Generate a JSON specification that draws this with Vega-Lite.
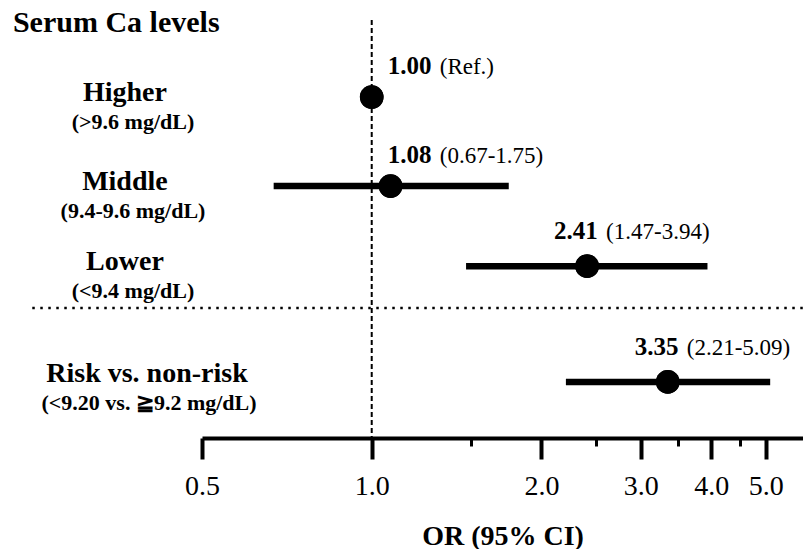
{
  "$schema": "https://vega.github.io/schema/vega-lite/v6.json",
  "width": 601,
  "height": 438,
  "autosize": {"type": "none"},
  "padding": {"left": 202, "top": 0, "right": 0, "bottom": 111},
  "background": "white",
  "config": {
    "view": {"stroke": null},
    "axisY": {"disable": true},
    "text": {"font": "Liberation Serif", "color": "black"}
  },
  "data": {
    "values": [
      {"group": "Higher", "range": "(>9.6 mg/dL)", "row": 1, "est": 1.00, "lo": null, "hi": null, "ci": "(Ref.)"},
      {"group": "Middle", "range": "(9.4-9.6 mg/dL)", "row": 2, "est": 1.08, "lo": 0.67, "hi": 1.75, "ci": "(0.67-1.75)"},
      {"group": "Lower", "range": "(<9.4 mg/dL)", "row": 2.9, "est": 2.41, "lo": 1.47, "hi": 3.94, "ci": "(1.47-3.94)"},
      {"group": "Risk vs. non-risk", "range": "(<9.20 vs. ≧9.2  mg/dL)", "row": 4.2, "est": 3.35, "lo": 2.21, "hi": 5.09, "ci": "(2.21-5.09)"}
    ]
  },
  "layer": [
    {
      "mark": {"type": "point", "filled": true, "color": "black", "opacity": 1, "size": 560},
      "encoding": {
        "x": {
          "field": "est", "type": "quantitative",
          "scale": {"type": "log", "domain": [0.5, 5.82], "nice": false},
          "axis": {
            "title": "OR (95% CI)",
            "values": [0.5, 1, 1.5, 2, 2.5, 3, 3.5, 4, 4.5, 5],
            "labelExpr": "indexof([1.5,2.5,3.5,4.5], datum.value) >= 0 ? '' : format(datum.value, '.1f')",
            "grid": false,
            "domainColor": "black",
            "domainWidth": 4,
            "tickColor": "black",
            "tickSize": {"condition": {"test": "indexof([1.5,2.5,3.5,4.5], datum.value) >= 0", "value": 8}, "value": 21},
            "tickWidth": {"condition": {"test": "indexof([1.5,2.5,3.5,4.5], datum.value) >= 0", "value": 3}, "value": 4},
            "labelFont": "Liberation Serif",
            "labelFontSize": 28,
            "labelColor": "black",
            "labelPadding": 13,
            "labelFlush": false,
            "labelOverlap": false,
            "titleFont": "Liberation Serif",
            "titleFontSize": 28,
            "titleFontWeight": "bold",
            "titleColor": "black",
            "titlePadding": 22
          }
        },
        "y": {"field": "row", "type": "quantitative", "scale": {"domain": [-0.09, 4.83], "reverse": true, "nice": false, "zero": false}, "axis": null}
      }
    },
    {
      "data": {"values": [{}]},
      "mark": {"type": "rule", "color": "black", "strokeWidth": 2, "strokeDash": [5, 3]},
      "encoding": {
        "x": {"datum": 1, "type": "quantitative"},
        "y": {"datum": 0.135, "type": "quantitative"},
        "y2": {"datum": 4.83}
      }
    },
    {
      "data": {"values": [{}]},
      "mark": {"type": "rule", "color": "black", "strokeWidth": 2.5, "strokeDash": [2.5, 5.5]},
      "encoding": {
        "x": {"datum": 0.25, "type": "quantitative"},
        "x2": {"datum": 5.82},
        "y": {"datum": 3.37, "type": "quantitative"}
      }
    },
    {
      "transform": [{"filter": "datum.lo != null"}],
      "mark": {"type": "rule", "color": "black", "strokeWidth": 6.5},
      "encoding": {
        "x": {"field": "lo", "type": "quantitative"},
        "x2": {"field": "hi"},
        "y": {"field": "row", "type": "quantitative"}
      }
    },
    {
      "mark": {"type": "point", "filled": true, "color": "black", "opacity": 1, "size": 560},
      "encoding": {
        "x": {"field": "est", "type": "quantitative"},
        "y": {"field": "row", "type": "quantitative"}
      }
    },
    {
      "transform": [{"filter": "datum.est < 1.5"}],
      "mark": {"type": "text", "align": "left", "baseline": "alphabetic", "fontWeight": "bold", "fontSize": 25, "dx": 16, "dy": -23},
      "encoding": {
        "x": {"datum": 1, "type": "quantitative"},
        "y": {"field": "row", "type": "quantitative"},
        "text": {"field": "est", "type": "quantitative", "format": ".2f"}
      }
    },
    {
      "transform": [{"filter": "datum.est < 1.5"}],
      "mark": {"type": "text", "align": "left", "baseline": "alphabetic", "fontSize": 23, "dx": 68, "dy": -23},
      "encoding": {
        "x": {"datum": 1, "type": "quantitative"},
        "y": {"field": "row", "type": "quantitative"},
        "text": {"field": "ci", "type": "nominal"}
      }
    },
    {
      "transform": [{"filter": "datum.est >= 1.5"}],
      "mark": {"type": "text", "align": "left", "baseline": "alphabetic", "fontWeight": "bold", "fontSize": 25, "dx": -33, "dy": -27},
      "encoding": {
        "x": {"field": "est", "type": "quantitative"},
        "y": {"field": "row", "type": "quantitative"},
        "text": {"field": "est", "type": "quantitative", "format": ".2f"}
      }
    },
    {
      "transform": [{"filter": "datum.est >= 1.5"}],
      "mark": {"type": "text", "align": "left", "baseline": "alphabetic", "fontSize": 23, "dx": 19, "dy": -27},
      "encoding": {
        "x": {"field": "est", "type": "quantitative"},
        "y": {"field": "row", "type": "quantitative"},
        "text": {"field": "ci", "type": "nominal"}
      }
    },
    {
      "transform": [{"filter": "datum.row < 4"}],
      "mark": {"type": "text", "align": "center", "baseline": "alphabetic", "fontWeight": "bold", "fontSize": 28, "dy": 4},
      "encoding": {
        "x": {"datum": 0.365, "type": "quantitative"},
        "y": {"field": "row", "type": "quantitative"},
        "text": {"field": "group", "type": "nominal"}
      }
    },
    {
      "transform": [{"filter": "datum.row < 4"}],
      "mark": {"type": "text", "align": "center", "baseline": "alphabetic", "fontWeight": "bold", "fontSize": 22, "dy": 32},
      "encoding": {
        "x": {"datum": 0.3772, "type": "quantitative"},
        "y": {"field": "row", "type": "quantitative"},
        "text": {"field": "range", "type": "nominal"}
      }
    },
    {
      "transform": [{"filter": "datum.row >= 4"}],
      "mark": {"type": "text", "align": "center", "baseline": "alphabetic", "fontWeight": "bold", "fontSize": 28, "dy": 0},
      "encoding": {
        "x": {"datum": 0.3994, "type": "quantitative"},
        "y": {"field": "row", "type": "quantitative"},
        "text": {"field": "group", "type": "nominal"}
      }
    },
    {
      "transform": [{"filter": "datum.row >= 4"}],
      "mark": {"type": "text", "align": "center", "baseline": "alphabetic", "fontWeight": "bold", "fontSize": 22, "dy": 28},
      "encoding": {
        "x": {"datum": 0.4027, "type": "quantitative"},
        "y": {"field": "row", "type": "quantitative"},
        "text": {"field": "range", "type": "nominal"}
      }
    },
    {
      "data": {"values": [{"label": "Serum Ca levels"}]},
      "mark": {"type": "text", "align": "left", "baseline": "alphabetic", "fontWeight": "bold", "fontSize": 30},
      "encoding": {
        "x": {"datum": 0.231, "type": "quantitative"},
        "y": {"datum": 0.27, "type": "quantitative"},
        "text": {"field": "label", "type": "nominal"}
      }
    }
  ]
}
